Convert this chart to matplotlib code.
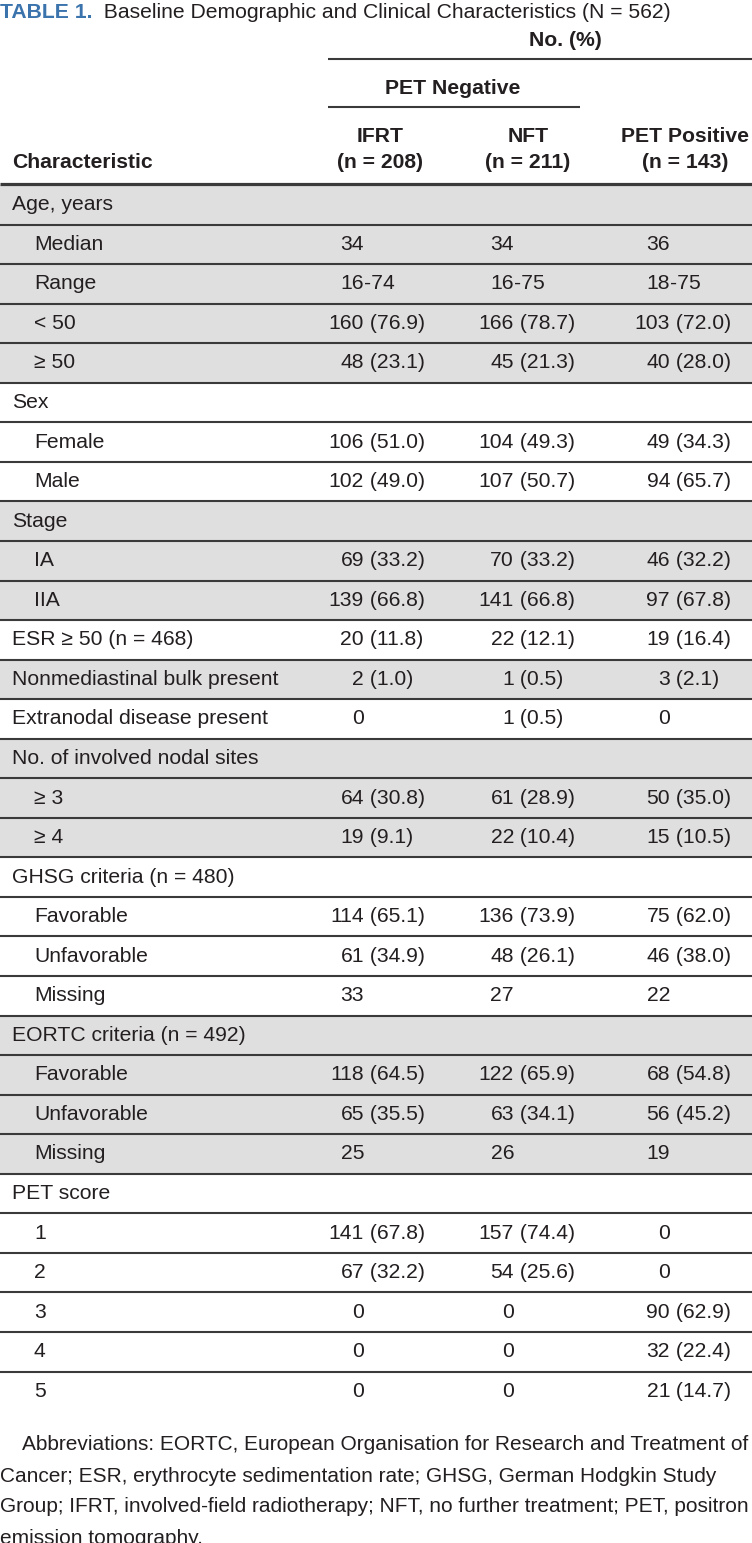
import matplotlib
matplotlib.use("Agg")
from matplotlib import pyplot as plt
from matplotlib.patches import Rectangle

plt.rcParams['font.family'] = ['Liberation Sans Narrow', 'Liberation Sans', 'DejaVu Sans']

# table content
labels = ["Age, years", "Median", "Range", "< 50", "≥ 50",
          "Sex", "Female", "Male",
          "Stage", "IA", "IIA",
          "ESR ≥ 50 (n = 468)", "Nonmediastinal bulk present", "Extranodal disease present",
          "No. of involved nodal sites", "≥ 3", "≥ 4",
          "GHSG criteria (n = 480)", "Favorable", "Unfavorable", "Missing",
          "EORTC criteria (n = 492)", "Favorable", "Unfavorable", "Missing",
          "PET score", "1", "2", "3", "4", "5"]
indent = [0, 1, 1, 1, 1, 0, 1, 1, 0, 1, 1, 0, 0, 0, 0, 1, 1,
          0, 1, 1, 1, 0, 1, 1, 1, 0, 1, 1, 1, 1, 1]
group = [0, 0, 0, 0, 0, 1, 1, 1, 2, 2, 2, 3, 4, 5, 6, 6, 6,
         7, 7, 7, 7, 8, 8, 8, 8, 9, 9, 9, 9, 9, 9]

ifrt = ["", "34", "16-74", "160 (76.9)", "48 (23.1)", "", "106 (51.0)", "102 (49.0)",
        "", "69 (33.2)", "139 (66.8)", "20 (11.8)", "2 (1.0)", "0", "", "64 (30.8)", "19 (9.1)",
        "", "114 (65.1)", "61 (34.9)", "33", "", "118 (64.5)", "65 (35.5)", "25",
        "", "141 (67.8)", "67 (32.2)", "0", "0", "0"]
nft = ["", "34", "16-75", "166 (78.7)", "45 (21.3)", "", "104 (49.3)", "107 (50.7)",
       "", "70 (33.2)", "141 (66.8)", "22 (12.1)", "1 (0.5)", "1 (0.5)", "", "61 (28.9)", "22 (10.4)",
       "", "136 (73.9)", "48 (26.1)", "27", "", "122 (65.9)", "63 (34.1)", "26",
       "", "157 (74.4)", "54 (25.6)", "0", "0", "0"]
pet_pos = ["", "36", "18-75", "103 (72.0)", "40 (28.0)", "", "49 (34.3)", "94 (65.7)",
           "", "46 (32.2)", "97 (67.8)", "19 (16.4)", "3 (2.1)", "0", "", "50 (35.0)", "15 (10.5)",
           "", "75 (62.0)", "46 (38.0)", "22", "", "68 (54.8)", "56 (45.2)", "19",
           "", "0", "0", "90 (62.9)", "32 (22.4)", "21 (14.7)"]

col_heads = [("IFRT", "(n = 208)"), ("NFT", "(n = 211)"), ("PET Positive", "(n = 143)")]
footnote = ["Abbreviations: EORTC, European Organisation for Research and Treatment of",
            "Cancer; ESR, erythrocyte sedimentation rate; GHSG, German Hodgkin Study",
            "Group; IFRT, involved-field radiotherapy; NFT, no further treatment; PET, positron",
            "emission tomography."]

# style
W, H = 752, 1543
txt = "#231f20"
grey = "#e0dfe0"
rule = "#3a3a3a"
blue = "#3b74ad"
fs = 15.2
fs_note = 15
row_top = 185
row_h = 39.55
anchors = [364, 514, 670]       # right edge of the count part in each column
head_centers = [380, 528, 685]

fig = plt.figure(figsize=(W / 100, H / 100), dpi=100)
ax = fig.add_axes([0, 0, 1, 1])
ax.set_xlim(0, W)
ax.set_ylim(H, 0)
ax.axis("off")

# title
t = ax.text(0, 13, "TABLE 1.", color=blue, fontsize=fs, fontweight="bold", va="center")
ax.annotate("  Baseline Demographic and Clinical Characteristics (N = 562)", xy=(1, 0),
            xycoords=t, va="bottom", ha="left", color=txt, fontsize=fs)

# header
ax.text(565, 40, "No. (%)", ha="center", va="center", fontsize=fs, fontweight="bold", color=txt)
ax.plot([328, W], [59, 59], color=rule, lw=1.5, solid_capstyle="butt")
ax.text(453, 88, "PET Negative", ha="center", va="center", fontsize=fs, fontweight="bold", color=txt)
ax.plot([328, 580], [107, 107], color=rule, lw=1.5, solid_capstyle="butt")
for xc, (a, b) in zip(head_centers, col_heads):
    ax.text(xc, 137, a, ha="center", va="center", fontsize=fs, fontweight="bold", color=txt)
    ax.text(xc, 163, b, ha="center", va="center", fontsize=fs, fontweight="bold", color=txt)
ax.text(12, 163, "Characteristic", ha="left", va="center", fontsize=fs, fontweight="bold", color=txt)

# body
for i, lab in enumerate(labels):
    top = row_top + i * row_h
    yc = top + row_h / 2
    if group[i] % 2 == 0:
        ax.add_patch(Rectangle((0, top), W, row_h, color=grey, lw=0, zorder=0))
    ax.text(34 if indent[i] else 12, yc, lab, ha="left", va="center", fontsize=fs, color=txt)
    for x, col in zip(anchors, [ifrt, nft, pet_pos]):
        val = col[i]
        if not val:
            continue
        cut = len(val)
        for k, ch in enumerate(val):
            if ch in " -":
                cut = k
                break
        c = ax.text(x, yc, val[:cut], ha="right", va="center", fontsize=fs, color=txt)
        if val[cut:]:
            ax.annotate(val[cut:], xy=(1, 0), xycoords=c, ha="left", va="bottom",
                        fontsize=fs, color=txt)
    if i > 0:
        ax.plot([0, W], [top, top], color=rule, lw=1.5, solid_capstyle="butt", zorder=2)

ax.plot([0, W], [row_top - 1, row_top - 1], color=rule, lw=2.3, solid_capstyle="butt", zorder=2)

# footnote
for j, line in enumerate(footnote):
    ax.text(22 if j == 0 else 0, 1445 + j * 31, line, ha="left", va="center",
            fontsize=fs_note, color=txt)

fig.savefig("out.png", dpi=100, facecolor="white")
